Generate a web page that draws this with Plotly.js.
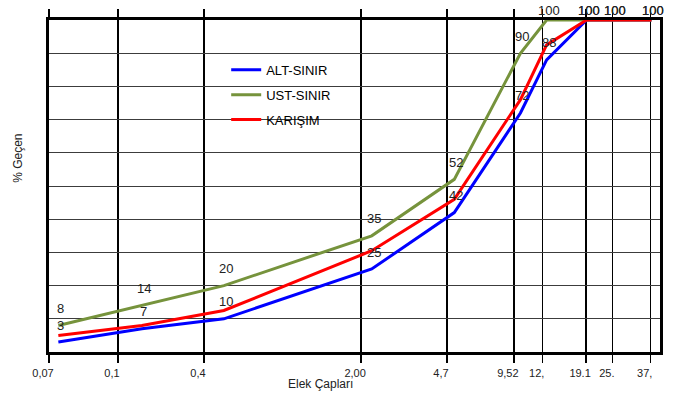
<!DOCTYPE html>
<html>
<head>
<meta charset="utf-8">
<script src="https://cdn.plot.ly/plotly-3.0.1.min.js"></script>
<style>html,body{margin:0;padding:0;background:#fff;}#chart{width:684px;height:398px;}</style>
</head>
<body>
<div id="chart"></div>
<script>
// Sieve sizes (mm) and passing percentages
const sieveSizes = [0.075, 0.18, 0.425, 2.0, 4.75, 9.5, 12.5, 19, 25, 37.5];
const altSinir = [3, 7, 10, 25, 42, 72, 88, 100, 100, 100];
const ustSinir = [8, 14, 20, 35, 52, 90, 100, 100, 100, 100];
const karisim = [5, 8, 12.5, 30.5, 46, 76, 92.5, 100, 100, 100];
const seriesNames = ['ALT-SINIR', 'UST-SINIR', 'KARIŞIM'];
// Tick positions and labels on the sieve axis
const tickValues = [0.068, 0.14, 0.345, 1.79, 4.4, 8.87, 12.0, 18.9, 25.0, 37.2];
const tickLabels = ['0,07', '0,1', '0,4', '2,00', '4,7', '9,52', '12,', '19.1', '25.', '37,'];
const yTicks = [0, 10, 20, 30, 40, 50, 60, 70, 80, 90, 100];

const FONT = 'Liberation Sans, Arial, sans-serif';
const colors = ['#0000FF', '#76933C', '#FF0000'];
const series = [altSinir, ustSinir, karisim];
const legendIds = ['legend', 'legend2', 'legend3'];

const traces = series.map((vals, i) => ({
  type: 'scatter', mode: 'lines',
  x: sieveSizes, y: vals, name: seriesNames[i],
  line: {color: colors[i], width: 3},
  legend: legendIds[i],
  hoverinfo: 'skip'
}));

const annotations = [];
// value labels for UST (green) and ALT (blue) limits
[ustSinir, altSinir].forEach(vals => {
  vals.forEach((v, k) => {
    annotations.push({
      x: Math.log10(sieveSizes[k]), y: v, xref: 'x', yref: 'y',
      text: String(v), showarrow: false, yshift: v >= 100 ? 10 : 17, xshift: 2,
      font: {family: FONT, size: 13, color: '#222'}
    });
  });
});
annotations.push({
  text: 'Elek Çapları', xref: 'paper', yref: 'paper', x: (320 - 49) / 611, y: -0.096,
  showarrow: false, xanchor: 'center', yanchor: 'middle',
  font: {family: FONT, size: 12, color: '#222'}
});
annotations.push({
  text: '% Geçen', xref: 'paper', yref: 'paper', x: -0.051, y: (352 - 158) / 332,
  showarrow: false, textangle: -90, xanchor: 'center', yanchor: 'middle',
  font: {family: FONT, size: 12, color: '#222'}
});

const legendBase = {
  xanchor: 'left', yanchor: 'top', bgcolor: 'rgba(0,0,0,0)', borderwidth: 0,
  font: {family: FONT, size: 13, color: '#000'}
};
const legendX = 0.29;

const layout = {
  width: 684, height: 398,
  margin: {l: 49, r: 24, t: 20, b: 46},
  paper_bgcolor: '#fff', plot_bgcolor: '#fff',
  showlegend: true,
  legend: Object.assign({}, legendBase, {x: legendX, y: 0.895}),
  legend2: Object.assign({}, legendBase, {x: legendX, y: 0.82}),
  legend3: Object.assign({}, legendBase, {x: legendX, y: 0.745}),
  xaxis: {
    type: 'log',
    range: [Math.log10(0.068), Math.log10(41)],
    tickmode: 'array', tickvals: tickValues, ticktext: tickLabels,
    ticks: 'outside', ticklen: 8, tickwidth: 1.4, tickcolor: '#000',
    showgrid: true, gridcolor: '#000', gridwidth: 1.4, zeroline: false,
    showline: true, linecolor: '#000', linewidth: 3, mirror: 'allticks',
    ticklabelstandoff: 1, ticklabelshift: -6,
    tickfont: {family: FONT, size: 11, color: '#222'}
  },
  yaxis: {
    range: [0, 100], tickmode: 'array', tickvals: yTicks,
    showticklabels: false, ticks: '',
    showgrid: true, gridcolor: '#3c3c3c', gridwidth: 1, zeroline: false,
    showline: true, linecolor: '#000', linewidth: 3, mirror: true
  },
  annotations: annotations
};

Plotly.newPlot('chart', traces, layout, {displayModeBar: false, staticPlot: true});
</script>
</body>
</html>
